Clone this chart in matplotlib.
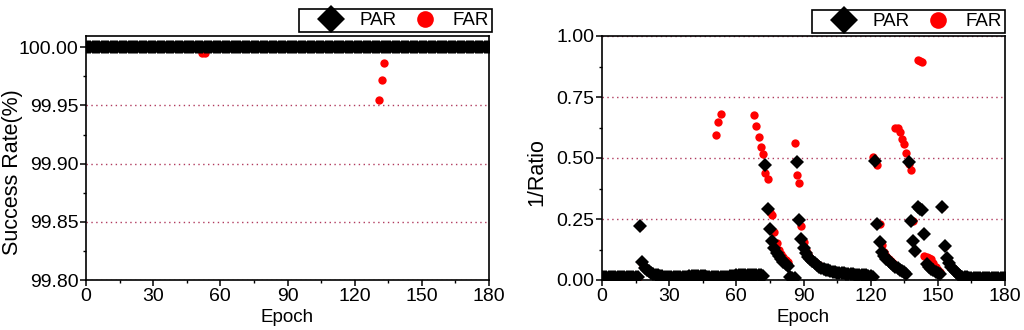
import numpy as np
import matplotlib
matplotlib.use('Agg')
import matplotlib.pyplot as plt
from matplotlib.ticker import MultipleLocator
from matplotlib.lines import Line2D

plt.rcParams['font.family'] = ['Liberation Sans', 'DejaVu Sans']

epochs = list(range(0, 181))

# left panel: success rate (%)
par_success = [100.0] * 181
far_dips = {52: 99.9953, 53: 99.9953, 131: 99.9546, 132: 99.972, 133: 99.9866}
far_success = [far_dips.get(e, 100.0) for e in epochs]

# right panel: 1/Ratio, one value per epoch 0..180
par_ratio = [
    0.012, 0.012, 0.012, 0.012, 0.012, 0.012, 0.012, 0.012, 0.012, 0.012,  # 0
    0.012, 0.012, 0.012, 0.012, 0.012, 0.012, 0.012, 0.223, 0.072, 0.050,  # 10
    0.042, 0.036, 0.030, 0.026, 0.022, 0.019, 0.017, 0.015, 0.014, 0.014,  # 20
    0.013, 0.013, 0.013, 0.012, 0.012, 0.013, 0.013, 0.014, 0.014, 0.015,  # 30
    0.016, 0.016, 0.017, 0.016, 0.016, 0.015, 0.015, 0.014, 0.014, 0.014,  # 40
    0.013, 0.013, 0.013, 0.013, 0.014, 0.014, 0.014, 0.015, 0.015, 0.016,  # 50
    0.020, 0.021, 0.022, 0.022, 0.022, 0.022, 0.022, 0.021, 0.021, 0.021,  # 60
    0.020, 0.020, 0.018, 0.470, 0.290, 0.208, 0.161, 0.130, 0.112, 0.097,  # 70
    0.085, 0.075, 0.066, 0.058, 0.012, 0.010, 0.010, 0.484, 0.246, 0.167,  # 80
    0.130, 0.110, 0.096, 0.085, 0.076, 0.068, 0.061, 0.055, 0.050, 0.046,  # 90
    0.042, 0.039, 0.036, 0.034, 0.032, 0.030, 0.029, 0.028, 0.027, 0.026,  # 100
    0.025, 0.024, 0.023, 0.022, 0.022, 0.021, 0.020, 0.020, 0.019, 0.018,  # 110
    0.015, 0.012, 0.488, 0.231, 0.154, 0.115, 0.100, 0.088, 0.078, 0.070,  # 120
    0.062, 0.055, 0.049, 0.043, 0.038, 0.032, 0.025, 0.484, 0.240, 0.158,  # 130
    0.117, 0.300, 0.292, 0.287, 0.187, 0.065, 0.055, 0.047, 0.040, 0.034,  # 140
    0.028, 0.024, 0.300, 0.139, 0.092, 0.070, 0.055, 0.042, 0.032, 0.024,  # 150
    0.018, 0.014, 0.012, 0.011, 0.010, 0.010, 0.010, 0.010, 0.010, 0.010,  # 160
    0.010, 0.010, 0.010, 0.010, 0.010, 0.010, 0.010, 0.010, 0.010, 0.010,  # 170
    0.010,                                                                 # 180
]
far_ratio = [
    0.011, 0.011, 0.011, 0.011, 0.011, 0.011, 0.011, 0.011, 0.011, 0.011,  # 0
    0.011, 0.011, 0.011, 0.011, 0.011, 0.011, 0.011, 0.223, 0.070, 0.048,  # 10
    0.040, 0.034, 0.029, 0.025, 0.021, 0.018, 0.016, 0.014, 0.013, 0.013,  # 20
    0.012, 0.012, 0.012, 0.011, 0.011, 0.012, 0.012, 0.013, 0.013, 0.014,  # 30
    0.015, 0.015, 0.016, 0.015, 0.015, 0.014, 0.014, 0.013, 0.013, 0.013,  # 40
    0.012, 0.596, 0.649, 0.680, 0.013, 0.013, 0.013, 0.014, 0.016, 0.017,  # 50
    0.020, 0.021, 0.022, 0.023, 0.023, 0.024, 0.023, 0.021, 0.675, 0.631,  # 60
    0.587, 0.546, 0.518, 0.437, 0.414, 0.280, 0.266, 0.195, 0.150, 0.125,  # 70
    0.108, 0.095, 0.083, 0.072, 0.011, 0.009, 0.563, 0.430, 0.398, 0.223,  # 80
    0.155, 0.125, 0.105, 0.092, 0.082, 0.073, 0.066, 0.060, 0.055, 0.050,  # 90
    0.047, 0.044, 0.041, 0.038, 0.036, 0.034, 0.032, 0.031, 0.030, 0.029,  # 100
    0.028, 0.027, 0.026, 0.025, 0.024, 0.023, 0.022, 0.022, 0.021, 0.020,  # 110
    0.018, 0.503, 0.490, 0.471, 0.228, 0.143, 0.115, 0.100, 0.088, 0.078,  # 120
    0.070, 0.622, 0.622, 0.608, 0.577, 0.556, 0.519, 0.475, 0.451, 0.240,  # 130
    0.120, 0.902, 0.898, 0.892, 0.100, 0.095, 0.090, 0.085, 0.070, 0.055,  # 140
    0.042, 0.032, 0.300, 0.139, 0.092, 0.070, 0.055, 0.042, 0.032, 0.024,  # 150
    0.017, 0.013, 0.011, 0.010, 0.009, 0.009, 0.009, 0.009, 0.009, 0.009,  # 160
    0.009, 0.009, 0.009, 0.009, 0.009, 0.009, 0.009, 0.009, 0.009, 0.009,  # 170
    0.009,                                                                 # 180
]

left_yticks = [99.80, 99.85, 99.90, 99.95, 100.00]
right_yticks = [0.00, 0.25, 0.50, 0.75, 1.00]
xticks = [0, 30, 60, 90, 120, 150, 180]

grid_color = '#b03a5e'
red = '#ff0000'

fig = plt.figure(figsize=(10.24, 3.30), dpi=100)
ax1 = fig.add_axes([86 / 1024, 1 - 280 / 330, 403 / 1024, 244 / 330])
ax2 = fig.add_axes([602 / 1024, 1 - 280 / 330, 403 / 1024, 244 / 330])


def style_axes(ax, ylabel, yticks, minor_y, ylim):
    ax.set_xlim(0, 180)
    ax.set_ylim(*ylim)
    ax.set_xticks(xticks)
    ax.set_yticks(yticks)
    ax.set_yticklabels(['%.2f' % v for v in yticks])
    ax.xaxis.set_minor_locator(MultipleLocator(15))
    ax.yaxis.set_minor_locator(MultipleLocator(minor_y))
    ax.tick_params(which='major', direction='out', length=4, width=1.1,
                   labelsize=14, pad=1.5, top=False, right=False)
    ax.tick_params(which='minor', direction='out', length=2.5, width=1.0,
                   top=False, right=False)
    for s in ax.spines.values():
        s.set_linewidth(1.2)
    ax.set_xlabel('Epoch', fontsize=13.5, labelpad=3)
    ax.set_ylabel(ylabel, fontsize=15.5)
    ax.yaxis.grid(True, which='major', color=grid_color,
                  linestyle=(0, (1, 2.5)), linewidth=1.0)
    ax.set_axisbelow(True)


def add_legend(ax, right_px, bottom_px):
    handles = [Line2D([], [], ls='none', marker='D', color='black', ms=14, mew=0),
               Line2D([], [], ls='none', marker='o', color=red, ms=12, mew=0)]
    leg = ax.legend(handles, ['PAR', 'FAR'],
                    loc='lower right', ncol=2, fontsize=13.5,
                    bbox_to_anchor=(right_px / 1024, 1 - bottom_px / 330),
                    bbox_transform=fig.transFigure, frameon=True,
                    fancybox=False, framealpha=1, edgecolor='black',
                    borderpad=0.15, handlelength=3.1, handletextpad=-0.05,
                    columnspacing=-0.05, borderaxespad=0)
    leg.get_frame().set_linewidth(1.2)


# left: success rate
ax1.plot(epochs, far_success, 'o', color=red, ms=6, mew=0, zorder=3)
ax1.plot(epochs, par_success, 'D', color='black', ms=7.2, mew=0, zorder=4)
style_axes(ax1, 'Success Rate(%)', left_yticks, 0.025, (99.80, 100.0097))
ax1.yaxis.set_label_coords((23 - 86) / 403, (280 - 172) / 244)
add_legend(ax1, 492, 32)

# right: 1/Ratio
ax2.plot(epochs, far_ratio, 'o', color=red, ms=6, mew=0, zorder=3)
ax2.plot(epochs, par_ratio, 'D', color='black', ms=7.2, mew=0, zorder=4)
style_axes(ax2, '1/Ratio', right_yticks, 0.125, (0, 1.0))
ax2.yaxis.set_label_coords((547 - 602) / 403, (280 - 172) / 244)
add_legend(ax2, 1005, 33)

fig.savefig('out.png', dpi=100)
